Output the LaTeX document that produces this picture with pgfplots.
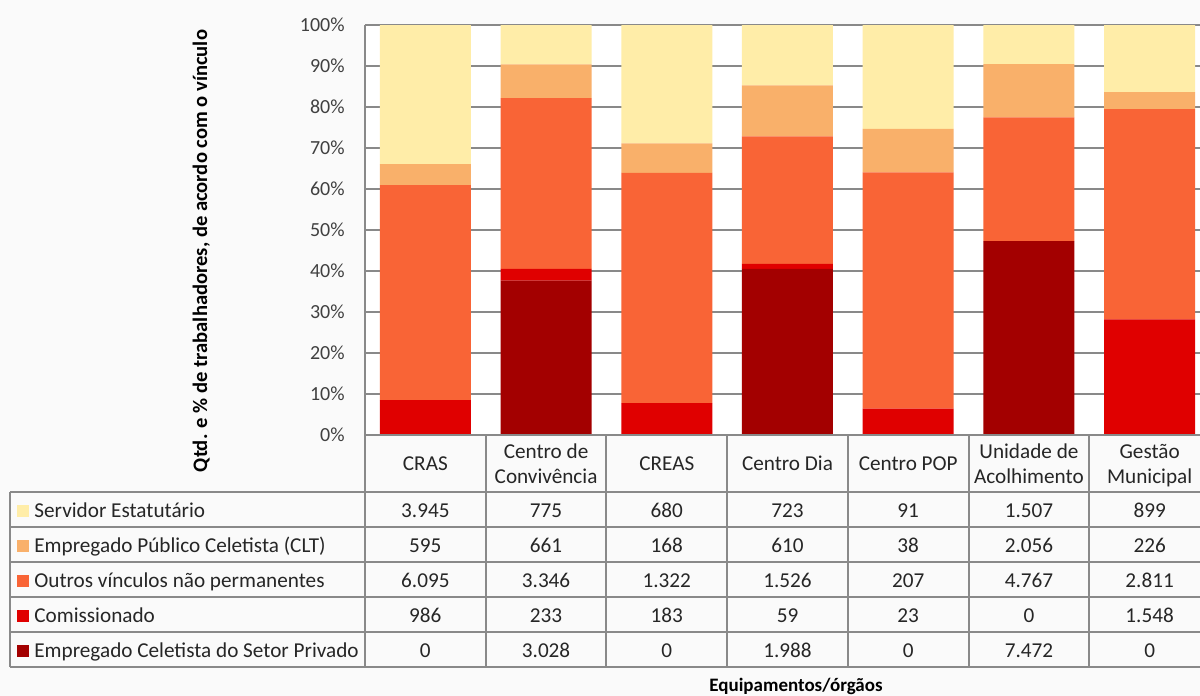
\documentclass[border=0pt]{standalone}
\usepackage{pgfplots}
\pgfplotsset{compat=1.18}
\usepackage{pgfplotstable}
\usepackage{fontspec}
\setmainfont{Carlito}
\definecolor{cEst}{RGB}{255,237,168}
\definecolor{cClt}{RGB}{249,176,106}
\definecolor{cOut}{RGB}{249,100,54}
\definecolor{cCom}{RGB}{224,0,0}
\definecolor{cPri}{RGB}{163,0,0}
\definecolor{bgc}{RGB}{250,250,250}
\definecolor{gridc}{RGB}{137,137,137}
\definecolor{txt}{RGB}{38,38,38}
\definecolor{tickc}{RGB}{64,64,64}

% percentage shares (computed from the counts in the data table)
\pgfplotstableread{
x pri com out clt est
0 0 8.48 52.45 5.12 33.95
1 37.65 2.90 41.60 8.22 9.64
2 0 7.78 56.18 7.14 28.90
3 40.52 1.20 31.10 12.43 14.74
4 0 6.41 57.66 10.58 25.35
5 47.29 0 30.17 13.01 9.54
6 0 28.23 51.26 4.12 16.39
}\pct

\newcommand{\tf}{\fontsize{10}{12}\selectfont}
\newcommand{\tbf}{\fontsize{10.6}{12}\selectfont}

\begin{document}
\begin{tikzpicture}[x=0.5pt,y=-0.5pt]
\fill[bgc] (0,0) rectangle (1200,696);
\begin{axis}[
  at={(182.5pt,-217.5pt)}, anchor=south west,
  scale only axis, width=422.5pt, height=205pt,
  xmin=-0.5, xmax=6.5, ymin=0, ymax=100,
  ybar stacked, bar width=45.5pt,
  axis background/.style={fill=white},
  axis line style={draw=none},
  xtick=\empty,
  ytick={0,10,...,100},
  ymajorgrids, grid style={gridc, line width=1pt},
  major tick length=0pt,
  yticklabel={\pgfmathprintnumber{\tick}\%},
  yticklabel style={anchor=east, inner sep=0pt, xshift=-10pt, font=\tf, text=tickc},
  /pgf/number format/assume math mode=true,
  legend style={at={(axis description cs:-0.41183,-0.16341)}, anchor=north west,
    draw=none, fill=none, inner sep=0pt, row sep=8.5pt, column sep=2.5pt,
    font=\tbf, text=txt,
    nodes={inner sep=0pt, text height=7.5pt, text depth=1.5pt}},
  legend cell align=left, reverse legend,
  legend image code/.code={\fill[#1] (0pt,-3pt) rectangle (6pt,3pt);},
]
\addplot[fill=cPri, draw=none] table[x=x,y=pri]{\pct};
\addlegendentry{Empregado Celetista do Setor Privado}
\addplot[fill=cCom, draw=none] table[x=x,y=com]{\pct};
\addlegendentry{Comissionado}
\addplot[fill=cOut, draw=none] table[x=x,y=out]{\pct};
\addlegendentry{Outros vínculos não permanentes}
\addplot[fill=cClt, draw=none] table[x=x,y=clt]{\pct};
\addlegendentry{Empregado Público Celetista (CLT)}
\addplot[fill=cEst, draw=none] table[x=x,y=est]{\pct};
\addlegendentry{Servidor Estatutário}
\end{axis}

% data table grid
\begin{scope}[gridc, line width=1pt]
\draw (365,25) -- (365,667);
\draw (365,435) -- (1210,435);
\foreach \yy in {492,527,562,597,632,667} \draw (10,\yy) -- (1210,\yy);
\draw (10,492) -- (10,667);
\foreach \k in {1,...,7} \draw ({365+120.714*\k},435) -- ({365+120.714*\k},667);
\end{scope}

% header
\begin{scope}[every node/.style={anchor=base, inner sep=0pt, font=\tbf, text=txt}]
\node at ({365+120.714*0.5},470.7) {CRAS};
\node at ({365+120.714*1.5},458) {Centro de};
\node at ({365+120.714*1.5},483) {Convivência};
\node at ({365+120.714*2.5},470.7) {CREAS};
\node at ({365+120.714*3.5},470.7) {Centro Dia};
\node at ({365+120.714*4.5},470.7) {Centro POP};
\node at ({365+120.714*5.5},458) {Unidade de};
\node at ({365+120.714*5.5},483) {Acolhimento};
\node at ({365+120.714*6.5},458) {Gestão};
\node at ({365+120.714*6.5},483) {Municipal};
% rows (counts)
\foreach \v [count=\i from 0] in {3.945,775,680,723,91,1.507,899}
  \node at ({365+120.714*(\i+0.5)},517.4) {\v};
\foreach \v [count=\i from 0] in {595,661,168,610,38,2.056,226}
  \node at ({365+120.714*(\i+0.5)},552.4) {\v};
\foreach \v [count=\i from 0] in {6.095,3.346,1.322,1.526,207,4.767,2.811}
  \node at ({365+120.714*(\i+0.5)},587.4) {\v};
\foreach \v [count=\i from 0] in {986,233,183,59,23,0,1.548}
  \node at ({365+120.714*(\i+0.5)},622.4) {\v};
\foreach \v [count=\i from 0] in {0,3.028,0,1.988,0,7.472,0}
  \node at ({365+120.714*(\i+0.5)},657.4) {\v};
\end{scope}

\node[rotate=90, anchor=base, inner sep=0pt, font=\bfseries\fontsize{10.3}{12}\selectfont, text=black] at (207,251)
  {Qtd. e \% de trabalhadores, de acordo com o vínculo};
\node[anchor=base, inner sep=0pt, font=\bfseries\fontsize{9.5}{11}\selectfont, text=black] at (796,691) {Equipamentos/órgãos};

\pgfresetboundingbox
\path (0,0) rectangle (1200,696);
\end{tikzpicture}
\end{document}
